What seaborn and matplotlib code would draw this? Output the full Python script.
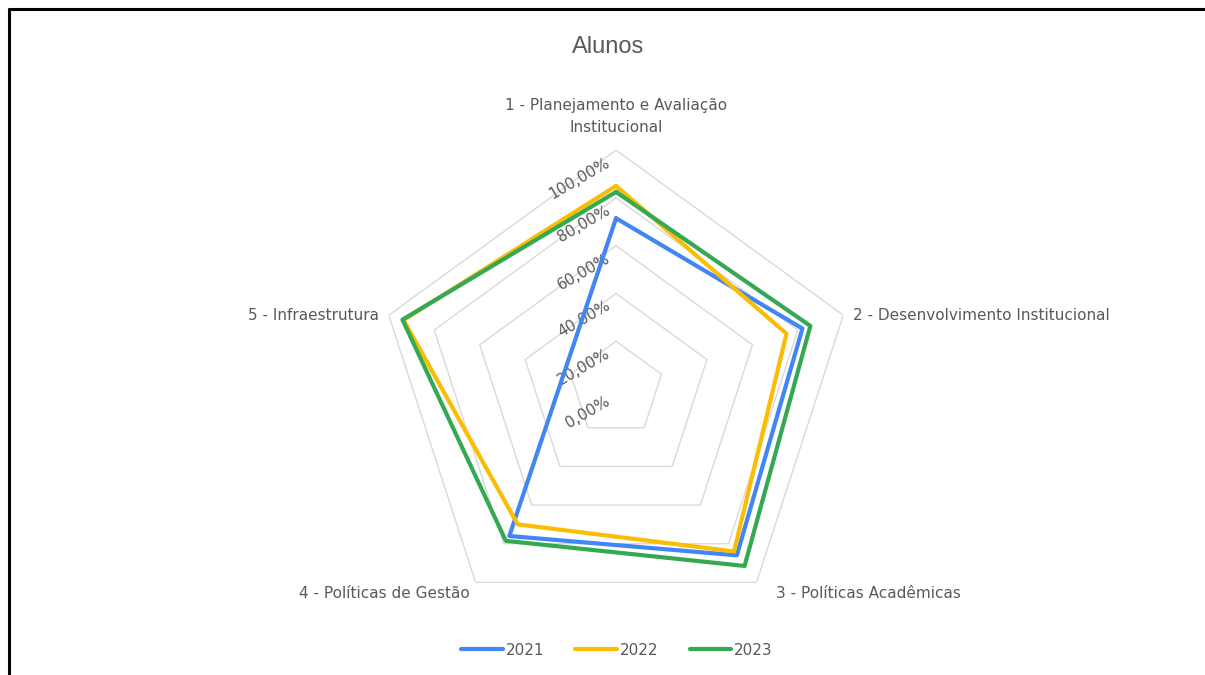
import numpy as np
import pandas as pd
import matplotlib
matplotlib.use("Agg")
import matplotlib.pyplot as plt
import seaborn as sns

# Radar chart "Alunos" - evaluation dimensions per year
categories = [
    "1 - Planejamento e Avaliação\nInstitucional",
    "2 - Desenvolvimento Institucional",
    "3 - Políticas Acadêmicas",
    "4 - Políticas de Gestão",
    "5 - Infraestrutura",
]
years = ["2021", "2022", "2023"]
vals_2021 = [0.715, 0.82, 0.86, 0.76, np.nan]   # no value for dimension 5 in 2021
vals_2022 = [0.85, 0.75, 0.84, 0.70, 0.935]
vals_2023 = [0.825, 0.855, 0.915, 0.785, 0.94]
ticks = [0.0, 0.2, 0.4, 0.6, 0.8, 1.0]
tick_labels = ["0,00%", "20,00%", "40,00%", "60,00%", "80,00%", "100,00%"]
colors = ["#4285F4", "#FBBC04", "#34A853"]

sns.set_theme(style="white")
plt.rcParams["font.family"] = ["DejaVu Sans"]
text_color = "#595959"

n = len(categories)
angles = np.linspace(0, 2 * np.pi, n, endpoint=False)

# long-form table, each series closed back onto its first valid point
rows = []
for year, vals in zip(years, [vals_2021, vals_2022, vals_2023]):
    pts = [(a, v) for a, v in zip(angles, vals) if not np.isnan(v)]
    pts.append((pts[0][0] + 2 * np.pi, pts[0][1]))
    for i, (a, v) in enumerate(pts):
        rows.append({"year": year, "order": i, "theta": a, "value": v})
df = pd.DataFrame(rows)

fig = plt.figure(figsize=(12.05, 6.75), dpi=100)
ax = fig.add_axes([0.3129, 0.0696, 0.3967, 0.708], projection="polar")
ax.set_theta_offset(np.pi / 2)
ax.set_theta_direction(-1)
ax.set_ylim(0, 1)
ax.grid(False)
ax.spines["polar"].set_visible(False)
ax.set_xticks([])
ax.set_yticks([])
ax.patch.set_alpha(0)

# pentagon gridlines (no spokes)
closed = np.append(angles, angles[0])
for t in ticks[1:]:
    ax.plot(closed, [t] * len(closed), color="#d9d9d9", lw=1.0, zorder=1)

sns.lineplot(data=df, x="theta", y="value", hue="year", sort=False,
             estimator=None, units="year", palette=colors, lw=3.0,
             ax=ax, legend=False, zorder=3)
ax.set_xlabel("")
ax.set_ylabel("")

# radial tick labels along the first axis
for t, lab in zip(ticks, tick_labels):
    ax.annotate(lab, xy=(0, t), xytext=(-5, -8), textcoords="offset points",
                ha="right", va="center", rotation=30, rotation_mode="anchor",
                fontsize=11, color=text_color, zorder=2)

# category labels
offsets = [(0, 11), (7, 0), (14, -8), (-4, -8), (-7, 0)]
aligns = [("center", "bottom"), ("left", "center"), ("left", "center"),
          ("right", "center"), ("right", "center")]
for a, lab, off, (ha, va) in zip(angles, categories, offsets, aligns):
    ax.annotate(lab, xy=(a, 1.0), xytext=off, textcoords="offset points",
                ha=ha, va=va, fontsize=11, color=text_color,
                multialignment="center", linespacing=1.55)

fig.text(0.505, 0.93, "Alunos", ha="center", va="center", fontsize=17,
         color=text_color, family="Liberation Sans")

handles = [plt.Line2D([], [], color=c, lw=3.0) for c in colors]
fig.legend(handles, years, loc="center", bbox_to_anchor=(0.512, 0.037), ncol=3,
           frameon=False, fontsize=11, handlelength=2.7, handletextpad=0.2,
           columnspacing=2.05, labelcolor=text_color)

# black frame on the left and top edges of the screenshot
fig.add_artist(plt.Line2D([0.0075, 0.0075], [0, 0.987], color="black", lw=2.2,
                          transform=fig.transFigure))
fig.add_artist(plt.Line2D([0.0075, 1.0], [0.987, 0.987], color="black", lw=2.2,
                          transform=fig.transFigure))

fig.savefig("out.png", dpi=100, facecolor="white")
